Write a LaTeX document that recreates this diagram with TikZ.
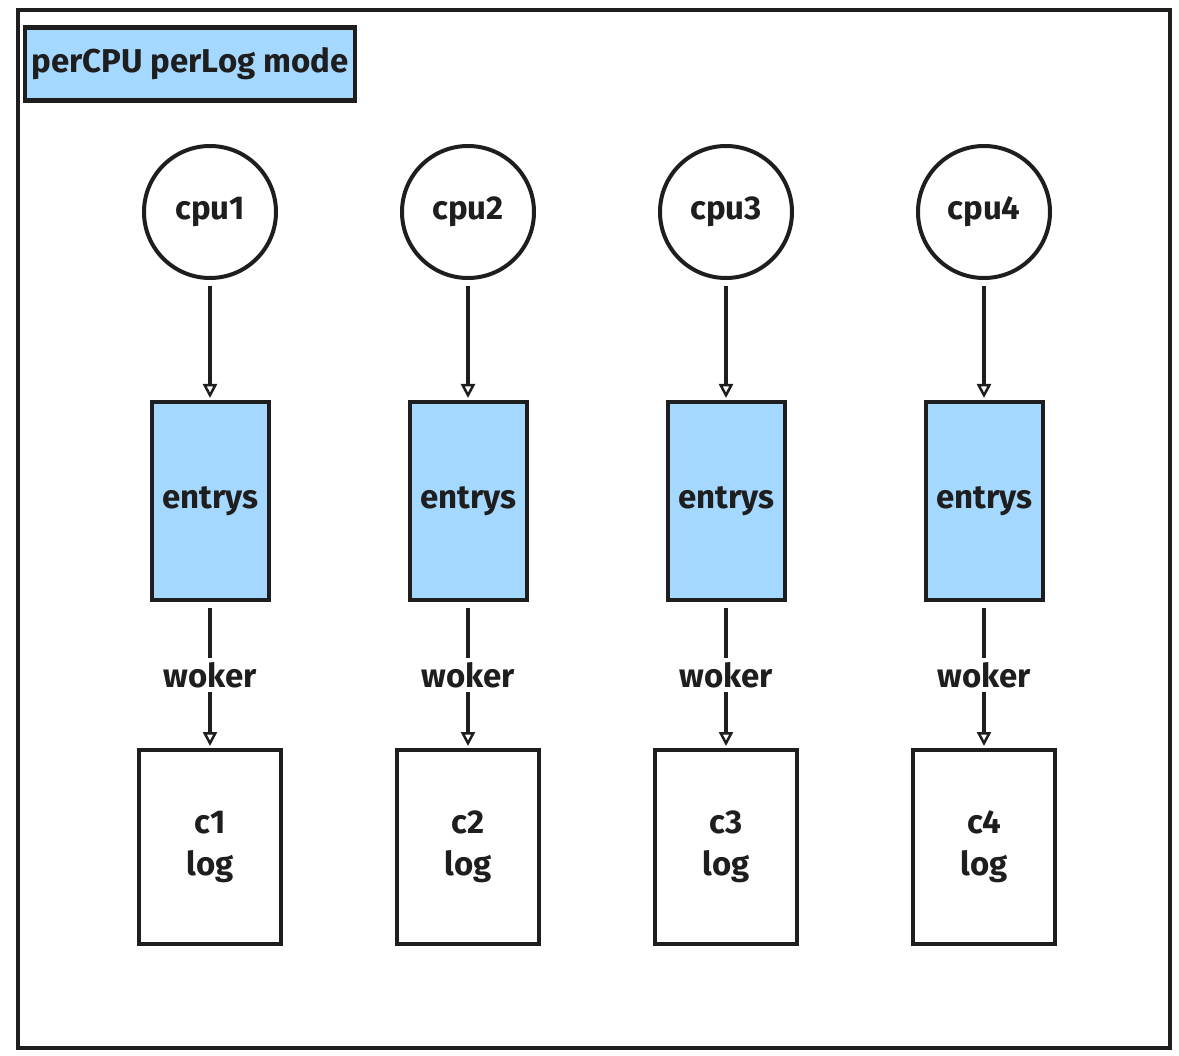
\documentclass[tikz,border=0pt]{standalone}
\usepackage{fontspec}
\setmainfont{Fira Sans}
\usepackage{xcolor}
\usepackage{tikz}
\usetikzlibrary{positioning}
\usetikzlibrary{arrows.meta}

\definecolor{inkline}{HTML}{1E1E1E}
\definecolor{queueblue}{HTML}{A5D8FF}

\tikzset{
	every node/.style={font=\fontsize{33}{42}\selectfont\bfseries, text=inkline},
	cpu/.style={circle, draw=inkline, line width=4pt, minimum size=132pt, inner sep=0pt},
	entrys/.style={rectangle, draw=inkline, fill=queueblue, line width=4pt, minimum width=117pt, minimum height=198pt, inner sep=0pt},
	logbox/.style={rectangle, draw=inkline, line width=4pt, minimum width=142pt, minimum height=194pt, inner sep=0pt, align=center},
	flow/.style={-{Triangle[open,length=14pt,width=14pt,line width=2.5pt]}, draw=inkline, line width=4pt, shorten <=6pt, shorten >=2pt},
	node distance=120pt and 122pt
}

\begin{document}
\begin{tikzpicture}[x=1pt,y=-1pt]
			\useasboundingbox (0,0) rectangle (1179,1056);
			\draw [draw=inkline, line width=3.5pt] (18,10) rectangle (1170,1048);
			\node (title) [rectangle, draw=inkline, fill=queueblue, line width=4.5pt, minimum width=330pt, minimum height=73pt, inner sep=0pt] at (190,64) {perCPU perLog mode};
			% cpus
			\node (cpu1)		[cpu] at (210,212)		{cpu1};
			\node (cpu2)		[cpu, right=of cpu1]	{cpu2};
			\node (cpu3)		[cpu, right=of cpu2]	{cpu3};
			\node (cpu4)		[cpu, right=of cpu3]	{cpu4};
			% queues
			\node (entrys1)	[entrys, below=120pt of cpu1]	{entrys};
			\node (entrys2)	[entrys, below=120pt of cpu2]	{entrys};
			\node (entrys3)	[entrys, below=120pt of cpu3]	{entrys};
			\node (entrys4)	[entrys, below=120pt of cpu4]	{entrys};
			% logs
			\node (log1)		[logbox, below=146pt of entrys1]	{c1\\log};
			\node (log2)		[logbox, below=146pt of entrys2]	{c2\\log};
			\node (log3)		[logbox, below=146pt of entrys3]	{c3\\log};
			\node (log4)		[logbox, below=146pt of entrys4]	{c4\\log};
			% arrows
			\draw [flow] (cpu1) -- (entrys1);
			\draw [flow] (cpu2) -- (entrys2);
			\draw [flow] (cpu3) -- (entrys3);
			\draw [flow] (cpu4) -- (entrys4);
			\draw [flow] (entrys1) -- node [fill=white, inner sep=4pt] {woker} (log1);
			\draw [flow] (entrys2) -- node [fill=white, inner sep=4pt] {woker} (log2);
			\draw [flow] (entrys3) -- node [fill=white, inner sep=4pt] {woker} (log3);
			\draw [flow] (entrys4) -- node [fill=white, inner sep=4pt] {woker} (log4);
		\end{tikzpicture}
\end{document}
